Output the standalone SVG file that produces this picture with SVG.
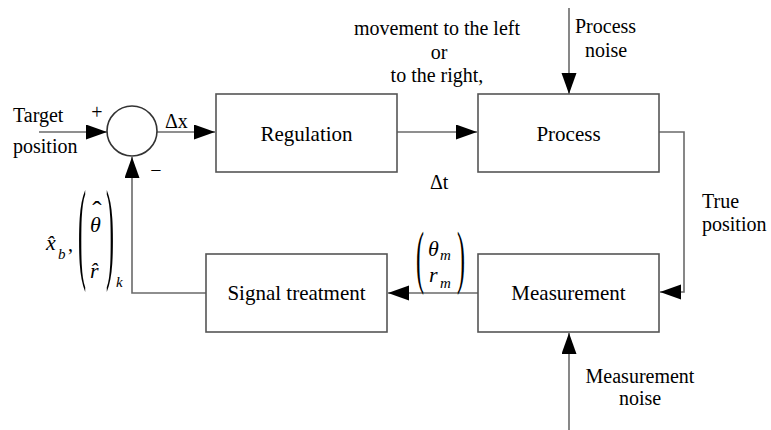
<svg xmlns="http://www.w3.org/2000/svg" width="771" height="430" viewBox="0 0 771 430" font-family="'Liberation Serif', 'Times New Roman', serif">
  <style>
    text { font-family: "Liberation Serif", "Times New Roman", serif; fill: #000; }
    .lbl { font-size: 20px; }
    .box-lbl { font-size: 21px; text-anchor: middle; }
    .mid { text-anchor: middle; }
    .math { font-size: 22px; font-style: italic; }
    .hat { font-size: 28px; font-style: normal; }
    .sub { font-size: 15px; font-style: italic; }
    .paren { font-size: 24px; }
    .box { fill: #fff; stroke: #555; stroke-width: 1.6; }
    .wire { fill: none; stroke: #6a6a6a; stroke-width: 1.6; marker-end: url(#head); }
  </style>
  <defs>
    <marker id="head" markerUnits="userSpaceOnUse" markerWidth="22" markerHeight="16" refX="21" refY="7.5" orient="auto">
      <path d="M0,0 L21,7.5 L0,15 Z" fill="#000"/>
    </marker>
  </defs>
  <rect width="771" height="430" fill="#fff"/>

  <!-- connectors -->
  <g id="connectors">
    <path class="wire" d="M39 132 H107"/>
    <path class="wire" d="M157 132 H215"/>
    <path class="wire" d="M397 132 H477"/>
    <path class="wire" d="M569 8 V94"/>
    <path class="wire" d="M659 132 H684 V292 H660"/>
    <path class="wire" d="M569 430 V333"/>
    <path class="wire" d="M478 293 H388"/>
    <path class="wire" d="M206 293 H132 V157"/>
  </g>

  <!-- summing junction -->
  <g id="sum">
    <circle cx="132" cy="131" r="25" fill="#fff" stroke="#333" stroke-width="1.6"/>
    <text class="lbl mid" x="97" y="119">+</text>
    <text class="lbl mid" x="156" y="177">−</text>
  </g>

  <g id="target">
    <text class="lbl" x="13" y="122">Target</text>
    <text class="lbl" x="13" y="153">position</text>
  </g>

  <g id="regulation">
    <rect class="box" x="216" y="94" width="181" height="78"/>
    <text class="box-lbl" x="306.5" y="141">Regulation</text>
  </g>

  <g id="process">
    <rect class="box" x="478" y="94" width="181" height="78"/>
    <text class="box-lbl" x="568.5" y="141">Process</text>
  </g>

  <g id="measurement">
    <rect class="box" x="478" y="254" width="181" height="78"/>
    <text class="box-lbl" x="568.5" y="300">Measurement</text>
  </g>

  <g id="signal-treatment">
    <rect class="box" x="206" y="254" width="181" height="78"/>
    <text class="box-lbl" x="296.5" y="300">Signal treatment</text>
  </g>

  <!-- connector labels -->
  <g id="labels">
    <text class="lbl" x="165" y="128">Δx</text>
    <text class="lbl" x="430" y="189">Δt</text>
    <text class="lbl mid" x="437" y="35">movement to the left</text>
    <text class="lbl mid" x="439" y="59">or</text>
    <text class="lbl mid" x="437" y="82">to the right,</text>
    <text class="lbl" x="575" y="33">Process</text>
    <text class="lbl" x="585" y="57">noise</text>
    <text class="lbl" x="702" y="208">True</text>
    <text class="lbl" x="702" y="231">position</text>
    <text class="lbl mid" x="640" y="383">Measurement</text>
    <text class="lbl mid" x="640" y="405">noise</text>
  </g>

  <!-- measured vector (theta_m, r_m) -->
  <g id="measured-vector">
    <text class="paren" transform="translate(416,279.6) scale(1,2.94)">(</text>
    <text class="paren" transform="translate(457,279.6) scale(1,2.94)">)</text>
    <text class="math" x="428" y="256">θ</text>
    <text class="sub" x="440" y="260">m</text>
    <text class="math" x="429" y="282">r</text>
    <text class="sub" x="440" y="288">m</text>
  </g>

  <!-- estimate vector -->
  <g id="estimate-vector">
    <text class="math" x="46" y="250">x̂</text>
    <text class="sub" x="58" y="259">b</text>
    <text class="lbl" x="68" y="251">,</text>
    <text class="paren" transform="translate(78,268) scale(1,4.7)">(</text>
    <text class="paren" transform="translate(106,268) scale(1,4.7)">)</text>
    <text class="math" x="90" y="232">θ<tspan class="hat" dx="-8.6" dy="-12">ˆ</tspan></text>
    <text class="math" x="90" y="278">r̂</text>
    <text class="sub" x="116" y="287">k</text>
  </g>
</svg>
